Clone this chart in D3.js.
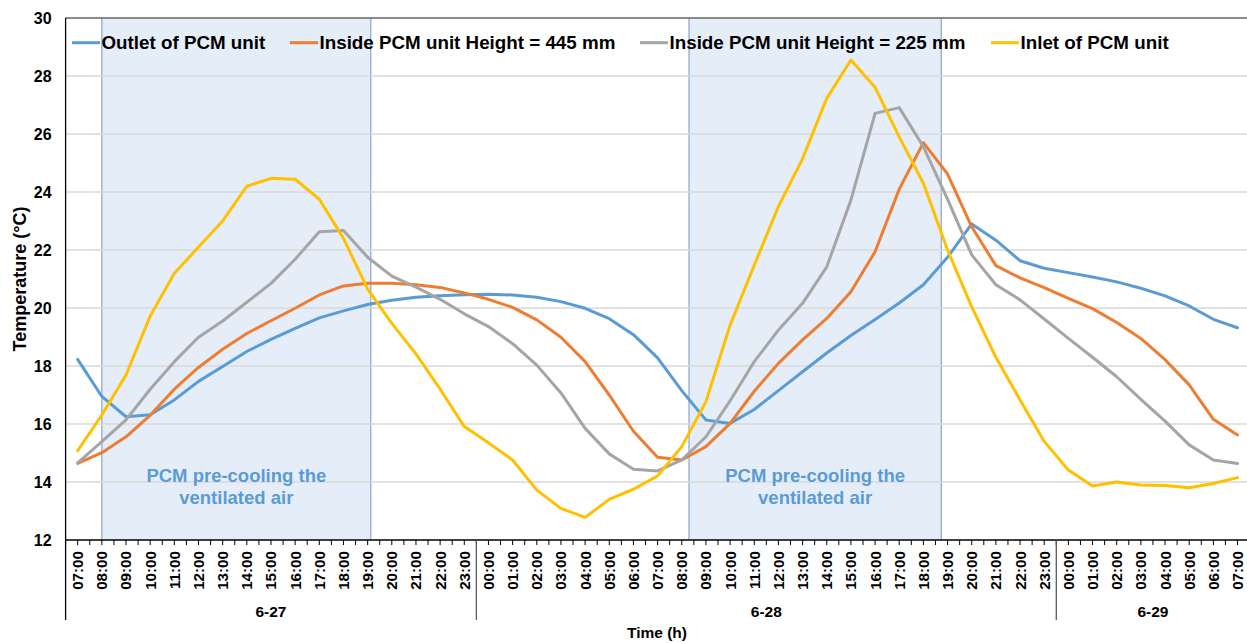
<!DOCTYPE html>
<html><head><meta charset="utf-8">
<script src="https://cdn.jsdelivr.net/npm/d3@7"></script>
<style>
body{margin:0;background:#fff;}
text{font-family:"Liberation Sans",Arial,Helvetica,sans-serif;font-weight:bold;}
</style>
</head><body>
<svg id="c" width="1247" height="643"></svg>
<script>
// ---------- DATA ----------
const timeLabels = ["07:00","08:00","09:00","10:00","11:00","12:00","13:00","14:00","15:00","16:00","17:00","18:00","19:00","20:00","21:00","22:00","23:00",
  "00:00","01:00","02:00","03:00","04:00","05:00","06:00","07:00","08:00","09:00","10:00","11:00","12:00","13:00","14:00","15:00","16:00","17:00","18:00","19:00","20:00","21:00","22:00","23:00",
  "00:00","01:00","02:00","03:00","04:00","05:00","06:00","07:00"];
const dayLabels = ["6-27","6-28","6-29"];
const daySizes = [17,24,8];

const outlet = [18.23,16.95,16.25,16.32,16.83,17.47,17.98,18.5,18.92,19.3,19.66,19.9,20.12,20.27,20.37,20.42,20.46,
  20.47,20.45,20.37,20.22,19.99,19.63,19.08,18.28,17.15,16.14,16.02,16.5,17.15,17.8,18.45,19.05,19.6,20.17,20.8,21.75,22.9,22.34,21.63,21.37,
  21.22,21.07,20.9,20.68,20.42,20.07,19.61,19.32];
const inside445 = [14.64,15.01,15.56,16.3,17.2,17.95,18.58,19.12,19.56,19.99,20.45,20.76,20.85,20.85,20.8,20.71,20.52,
  20.3,20.02,19.59,18.99,18.15,17.0,15.75,14.85,14.76,15.22,16.02,17.13,18.09,18.9,19.64,20.56,21.94,24.1,25.7,24.62,22.8,21.46,21.04,20.7,
  20.33,19.98,19.5,18.95,18.22,17.35,16.16,15.62];
const inside225 = [14.66,15.39,16.14,17.2,18.15,18.99,19.55,20.2,20.85,21.68,22.63,22.67,21.75,21.1,20.72,20.3,19.8,
  19.36,18.77,18.03,17.07,15.85,14.97,14.44,14.38,14.76,15.56,16.8,18.15,19.24,20.16,21.42,23.72,26.71,26.91,25.56,23.75,21.83,20.8,20.28,19.62,
  18.95,18.3,17.63,16.85,16.1,15.28,14.76,14.64];
const inlet = [15.08,16.31,17.69,19.72,21.2,22.1,23.0,24.2,24.47,24.44,23.75,22.4,20.65,19.47,18.42,17.2,15.91,
  15.35,14.76,13.72,13.09,12.78,13.4,13.75,14.21,15.22,16.77,19.41,21.48,23.5,25.15,27.23,28.55,27.61,25.9,24.3,22.0,20.04,18.3,16.83,15.4,
  14.41,13.86,14.0,13.9,13.88,13.8,13.95,14.15];

const seriesNames = ["Outlet of PCM unit","Inside PCM unit Height = 445 mm","Inside PCM unit Height = 225 mm","Inlet of PCM unit"];
const seriesColors = ["#5B9BD5","#ED7D31","#A5A5A5","#FFC000"];
const yTicks = [12,14,16,18,20,22,24,26,28,30];
// shaded periods, in hours from the first sample
const shadeStart = [1.0, 25.3];
const shadeEnd = [12.13, 35.74];
const shadeText = ["PCM pre-cooling the","ventilated air"];

// ---------- LAYOUT ----------
const svg = d3.select("#c");
const L = 65.6, R = 1249.6, T = 18, B = 540, AXB = 620;
const x = d3.scaleBand().domain(d3.range(timeLabels.length)).range([L, R]).paddingInner(0).paddingOuter(0);
const xc = i => x(i) + x.bandwidth()/2;
const xf = v => x(0) + x.bandwidth()/2 + v * x.step();
const y = d3.scaleLinear().domain([12,30]).range([B, T]);

// shading
const g0 = svg.append("g");
shadeStart.forEach((s,k) => {
  const x0 = xf(s), x1 = xf(shadeEnd[k]);
  g0.append("rect").attr("x",x0).attr("y",T).attr("width",x1-x0).attr("height",B-T).attr("fill","#E5EEF8");
  [x0,x1].forEach(xx => g0.append("line").attr("x1",xx).attr("x2",xx).attr("y1",T).attr("y2",B)
    .attr("stroke","#8AA6C8").attr("stroke-width",1.2));
});

// gridlines
svg.append("g").selectAll("line").data(yTicks.filter(t => t>12 && t<30)).join("line")
  .attr("x1",L).attr("x2",R).attr("y1",d=>y(d)).attr("y2",d=>y(d))
  .attr("stroke","#D9D9D9").attr("stroke-width",1.3);
// top border
svg.append("line").attr("x1",L).attr("x2",R).attr("y1",T).attr("y2",T).attr("stroke","#666").attr("stroke-width",1.3);

// y axis labels
const yAxis = d3.axisLeft(y).tickValues(yTicks).tickSize(0).tickPadding(14).tickFormat(d3.format("d"));
const ya = svg.append("g").attr("transform",`translate(${L},0)`).call(yAxis);
ya.select(".domain").remove();
ya.selectAll("text").attr("font-size",16).attr("fill","#000")
  .style("font-family",'"Liberation Sans",Arial,sans-serif').style("font-weight","bold");

// y title
svg.append("text").attr("transform","translate(20,279) rotate(-90)").attr("text-anchor","middle")
  .attr("dy","0.35em").attr("font-size",18).attr("fill","#000").text("Temperature (°C)");

// x axis
svg.append("line").attr("x1",L).attr("x2",R).attr("y1",B).attr("y2",B).attr("stroke","#000").attr("stroke-width",1.3);
svg.append("line").attr("x1",L).attr("x2",L).attr("y1",T).attr("y2",AXB).attr("stroke","#000").attr("stroke-width",1.3);
const tickPos = [];
timeLabels.forEach((t,i) => { tickPos.push(x(i)); tickPos.push(xc(i)); });
svg.append("g").selectAll("line").data(tickPos).join("line")
  .attr("x1",d=>d).attr("x2",d=>d).attr("y1",B).attr("y2",B+5).attr("stroke","#000").attr("stroke-width",1);

svg.append("g").selectAll("text").data(timeLabels).join("text")
  .attr("transform",(d,i)=>`translate(${xc(i)},551) rotate(-90)`)
  .attr("text-anchor","end").attr("dy","0.36em").attr("font-size",15.2).attr("fill","#000").text(d=>d);

// day groups
let acc = 0;
dayLabels.forEach((dl,k) => {
  const s = acc, e = acc + daySizes[k];
  const cx = (x(s) + x(e-1) + x.bandwidth())/2;
  svg.append("text").attr("x",cx).attr("y",616.5).attr("text-anchor","middle").attr("font-size",15.5).attr("fill","#000").text(dl);
  if (k < dayLabels.length-1) {
    const bx = x(e);
    svg.append("line").attr("x1",bx).attr("x2",bx).attr("y1",B).attr("y2",AXB).attr("stroke","#595959").attr("stroke-width",1.3);
  }
  acc = e;
});

svg.append("text").attr("x",657).attr("y",638).attr("text-anchor","middle").attr("font-size",15.5).attr("fill","#000").text("Time (h)");

// annotations
shadeStart.forEach((s,k) => {
  const cx = (xf(s) + xf(shadeEnd[k]))/2;
  shadeText.forEach((t,j) => svg.append("text").attr("x",cx).attr("y",481.5 + j*22).attr("text-anchor","middle")
    .attr("font-size",18.5).attr("fill","#5B9BD5").text(t));
});

// lines
const line = d3.line().x((d,i)=>xc(i)).y(d=>y(d));
[outlet, inside445, inside225, inlet].forEach((s,k) => {
  svg.append("path").datum(s).attr("d",line).attr("fill","none").attr("stroke",seriesColors[k])
    .attr("stroke-width",3).attr("stroke-linejoin","round").attr("stroke-linecap","round");
});

// legend
const legX = [72, 290, 640, 991];
seriesNames.forEach((n,k) => {
  svg.append("line").attr("x1",legX[k]).attr("x2",legX[k]+28).attr("y1",42.7).attr("y2",42.7)
    .attr("stroke",seriesColors[k]).attr("stroke-width",3);
  svg.append("text").attr("x",legX[k]+29.5).attr("y",49).attr("font-size",18.8).attr("fill","#000").text(n);
});
</script>
</body></html>
